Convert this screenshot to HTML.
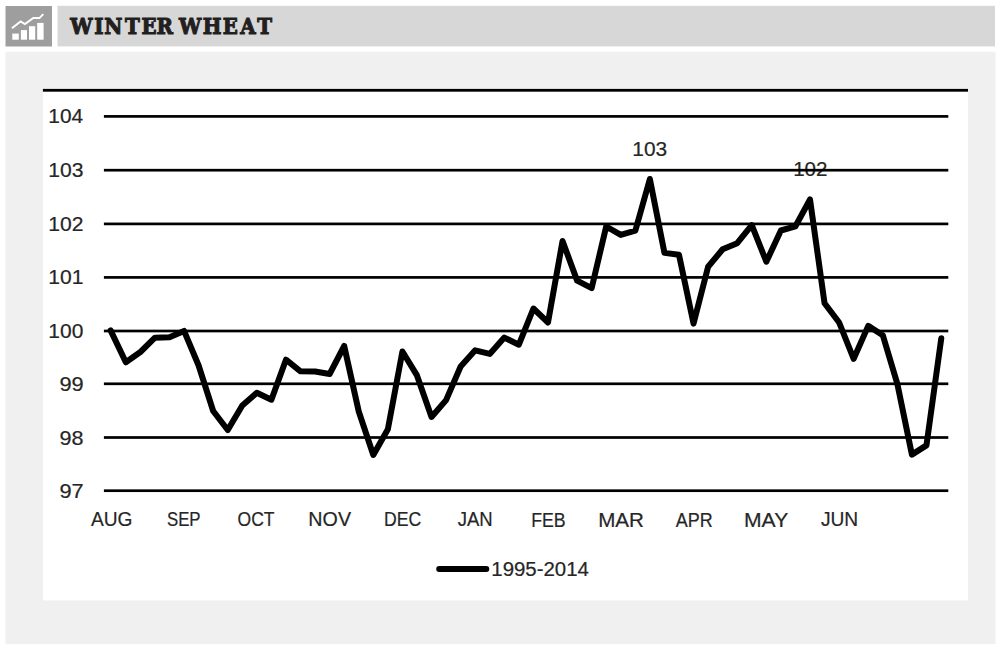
<!DOCTYPE html>
<html lang="en"><head><meta charset="utf-8"><title>Winter Wheat</title>
<style>
html,body{margin:0;padding:0;background:#fff;width:1000px;height:649px;overflow:hidden}
svg{display:block}
</style></head><body>
<svg width="1000" height="649" viewBox="0 0 1000 649">
<rect x="0" y="0" width="1000" height="649" fill="#ffffff"/>
<rect x="5.5" y="6" width="46.5" height="40.5" fill="#9e9e9e"/>
<g fill="#ffffff"><rect x="12.3" y="33.6" width="6.5" height="6.1"/><rect x="20.9" y="30.1" width="6.1" height="9.6"/><rect x="29" y="26.2" width="6.2" height="13.5"/><rect x="37.2" y="22.9" width="6.4" height="16.8"/></g>
<polyline points="11.9,28.2 20.6,21.4 24.9,24.1 33.3,17.9 39.4,18.1 43.3,14.1" fill="none" stroke="#ffffff" stroke-width="2.0" stroke-linejoin="miter"/>
<rect x="57.5" y="5.8" width="937.5" height="40.6" fill="#d7d7d7"/>
<text transform="scale(0.89,1)" x="78.86 105.83 117.10 140.40 158.89 175.98" y="34.4" font-family="'DejaVu Serif', 'Liberation Serif', serif" font-weight="bold" font-size="22.3" fill="#231f20" stroke="#231f20" stroke-width="1.1">WINTER</text>
<text transform="scale(0.89,1)" x="201.00 227.83 250.18 269.84 289.00" y="34.4" font-family="'DejaVu Serif', 'Liberation Serif', serif" font-weight="bold" font-size="22.3" fill="#231f20" stroke="#231f20" stroke-width="1.1">WHEAT</text>
<rect x="5.5" y="51.7" width="990" height="592.3" fill="#f0f0f0"/>
<rect x="43" y="89" width="925" height="511.4" fill="#ffffff"/>
<rect x="42.9" y="88.9" width="925.1" height="2.8" fill="#000"/>
<g font-family='"Liberation Sans", Arial, sans-serif' font-size="20" fill="#262626" stroke="#262626" stroke-width="0.2">
<text x="632.38" y="155.55" font-size="20.21" textLength="34.83" lengthAdjust="spacingAndGlyphs">103</text>
<text x="793.15" y="176.20" font-size="20.28" textLength="34.35" lengthAdjust="spacingAndGlyphs">102</text>
</g>
<rect x="103.9" y="115.05" width="844.4" height="2.7" fill="#000"/>
<rect x="103.9" y="168.85" width="844.4" height="2.7" fill="#000"/>
<rect x="103.9" y="222.55" width="844.4" height="2.7" fill="#000"/>
<rect x="103.9" y="276.05" width="844.4" height="2.7" fill="#000"/>
<rect x="103.9" y="329.65" width="844.4" height="2.7" fill="#000"/>
<rect x="103.9" y="382.45" width="844.4" height="2.7" fill="#000"/>
<rect x="103.9" y="436.15" width="844.4" height="2.7" fill="#000"/>
<rect x="103.9" y="489.35" width="844.4" height="2.7" fill="#000"/>
<g font-family='"Liberation Sans", Arial, sans-serif' font-size="20" fill="#262626" stroke="#262626" stroke-width="0.2">
<text x="48.33" y="123.40" font-size="20.28" textLength="34.76" lengthAdjust="spacingAndGlyphs">104</text>
<text x="48.31" y="177.20" font-size="20.28" textLength="35.21" lengthAdjust="spacingAndGlyphs">103</text>
<text x="48.31" y="230.90" font-size="20.28" textLength="35.21" lengthAdjust="spacingAndGlyphs">102</text>
<text x="48.31" y="284.40" font-size="20.28" textLength="35.21" lengthAdjust="spacingAndGlyphs">101</text>
<text x="48.32" y="338.00" font-size="20.28" textLength="34.99" lengthAdjust="spacingAndGlyphs">100</text>
<text x="59.51" y="390.80" font-size="20.28" textLength="24.23" lengthAdjust="spacingAndGlyphs">99</text>
<text x="59.52" y="444.50" font-size="20.28" textLength="23.99" lengthAdjust="spacingAndGlyphs">98</text>
<text x="59.51" y="497.70" font-size="20.28" textLength="24.23" lengthAdjust="spacingAndGlyphs">97</text>
<text x="90.90" y="526.30" font-size="19.58" textLength="41.58" lengthAdjust="spacingAndGlyphs">AUG</text>
<text x="166.96" y="526.30" font-size="19.58" textLength="33.60" lengthAdjust="spacingAndGlyphs">SEP</text>
<text x="237.62" y="526.30" font-size="19.58" textLength="36.94" lengthAdjust="spacingAndGlyphs">OCT</text>
<text x="308.38" y="526.30" font-size="19.58" textLength="42.66" lengthAdjust="spacingAndGlyphs">NOV</text>
<text x="384.09" y="526.30" font-size="19.58" textLength="37.24" lengthAdjust="spacingAndGlyphs">DEC</text>
<text x="457.63" y="526.30" font-size="19.86" textLength="35.04" lengthAdjust="spacingAndGlyphs">JAN</text>
<text x="531.18" y="526.50" font-size="20.14" textLength="34.49" lengthAdjust="spacingAndGlyphs">FEB</text>
<text x="598.15" y="526.50" font-size="20.14" textLength="45.72" lengthAdjust="spacingAndGlyphs">MAR</text>
<text x="675.80" y="526.50" font-size="20.14" textLength="36.91" lengthAdjust="spacingAndGlyphs">APR</text>
<text x="744.06" y="526.50" font-size="20.14" textLength="44.17" lengthAdjust="spacingAndGlyphs">MAY</text>
<text x="820.92" y="526.30" font-size="19.86" textLength="37.30" lengthAdjust="spacingAndGlyphs">JUN</text>
<text x="491.27" y="575.50" font-size="19.72" textLength="97.69" lengthAdjust="spacingAndGlyphs">1995-2014</text>
</g>
<line x1="439.2" y1="568.9" x2="486.3" y2="568.9" stroke="#000" stroke-width="6" stroke-linecap="round"/>
<polyline points="110.60,330.40 125.84,362.30 140.39,352.00 154.95,337.70 169.51,337.20 184.06,330.90 198.62,365.50 213.18,411.00 227.73,430.00 242.29,405.50 256.85,392.80 271.40,399.70 285.96,359.70 300.52,371.30 315.07,371.50 329.63,374.00 344.19,346.00 358.75,411.50 373.30,455.00 387.86,429.30 402.42,351.50 416.97,375.40 431.53,417.00 446.09,400.10 460.64,366.50 475.20,350.30 489.76,353.90 504.31,337.60 518.87,344.70 533.43,308.50 547.99,322.50 562.54,241.00 577.10,280.60 591.66,288.10 606.21,226.50 620.77,234.90 635.33,230.70 649.88,179.00 664.44,252.90 679.00,254.80 693.55,323.60 708.11,266.70 722.67,249.30 737.22,243.20 751.78,225.20 766.34,261.70 780.90,230.50 795.45,226.30 810.01,199.50 824.57,303.30 839.12,322.50 853.68,358.80 868.24,325.90 882.79,335.20 897.35,383.80 911.91,454.60 926.46,445.40 941.30,338.20" fill="none" stroke="#000" stroke-width="6.0" stroke-linejoin="round" stroke-linecap="round"/>
</svg>
</body></html>
